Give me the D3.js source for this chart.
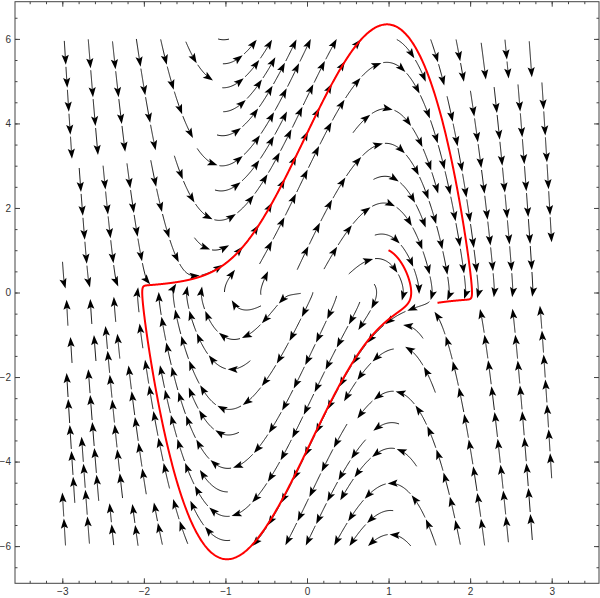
<!DOCTYPE html>
<html><head><meta charset="utf-8">
<script src="https://cdn.jsdelivr.net/npm/d3@7"></script>
<style>body{margin:0;background:#fff} svg{display:block}</style>
</head><body><svg id="c" width="600" height="598"></svg>
<script>
(function(){
// ---------------- data ----------------
// Van der Pol field shown by the stream plot:  x' = y,  y' = mu (1 - x^2) y - x
const mu = 4;
const streamXDomain = [-3, 3];
const streamYDomain = [-6, 6];
const viewX = [-3.58, 3.58];
const viewY = [-6.88, 6.88];
const xTicks = [-3, -2, -1, 0, 1, 2, 3];
const yTicks = [-6, -4, -2, 0, 2, 4, 6];
const xMinorStep = 0.2;
const yMinorStep = 0.5;
// red trajectory: initial condition and the x where it stops (on the second pass of the right branch)
const redStart = [1, 1];
const redStopX = 1.6;

// ---------------- setup ----------------
const svg = d3.select("#c");
const xs = d3.scaleLinear().domain(viewX).range([15, 599]);
const ys = d3.scaleLinear().domain(viewY).range([583.3, 1.7]);

function field(x, y) { return [y, mu * (1 - x * x) * y - x]; }

// ---------------- streamlines (evenly spaced, screen space) ----------------
const kx = xs(1) - xs(0), ky = ys(0) - ys(1);
const X0 = xs(streamXDomain[0]), X1 = xs(streamXDomain[1]);
const Y0 = ys(streamYDomain[1]), Y1 = ys(streamYDomain[0]);
const dsep = 24, dtest = 11, h = 1;
const nx = Math.ceil((X1 - X0) / dsep) + 1, ny = Math.ceil((Y1 - Y0) / dsep) + 1;
const grid = Array.from({length: nx * ny}, () => []);

function vel(px, py) {
  const [u, v] = field(xs.invert(px), ys.invert(py));
  const a = u * kx, b = -v * ky;
  const m = Math.hypot(a, b);
  if (Math.hypot(u, v) < 0.01 || m === 0) return null;
  return [a / m, b / m];
}
function inside(px, py) { return px >= X0 && px <= X1 && py >= Y0 && py <= Y1; }
function cellOf(px, py) { return [Math.floor((px - X0) / dsep), Math.floor((py - Y0) / dsep)]; }
function tooClose(px, py, d) {
  const [ci, cj] = cellOf(px, py);
  const d2 = d * d;
  for (let i = ci - 1; i <= ci + 1; i++) for (let j = cj - 1; j <= cj + 1; j++) {
    if (i < 0 || j < 0 || i >= nx || j >= ny) continue;
    for (const p of grid[i + j * nx]) {
      const dx = p[0] - px, dy = p[1] - py;
      if (dx * dx + dy * dy < d2) return true;
    }
  }
  return false;
}
function addPts(pts) {
  for (const p of pts) { const [i, j] = cellOf(p[0], p[1]); if (i >= 0 && j >= 0 && i < nx && j < ny) grid[i + j * nx].push(p); }
}
function selfClose(local, px, py, d) {
  const d2 = d * d, n = local.length - 25;
  for (let k = 0; k < n; k++) {
    const dx = local[k][0] - px, dy = local[k][1] - py;
    if (dx * dx + dy * dy < d2) return true;
  }
  return false;
}
function trace(sx, sy, dir, local) {
  const pts = [];
  const dirs = [];
  let px = sx, py = sy;
  for (let i = 0; i < 2500; i++) {
    const v1 = vel(px, py); if (!v1) break;
    const mx = px + dir * v1[0] * h / 2, my = py + dir * v1[1] * h / 2;
    const v2 = vel(mx, my); if (!v2) break;
    if (v1[0] * v2[0] + v1[1] * v2[1] < 0) break;
    // stop at sharp bends (e.g. where lines fall onto the slow branch)
    if (dirs.length >= 6) {
      const o = dirs[dirs.length - 6];
      if (o[0] * v2[0] + o[1] * v2[1] < 0.72) break;
    }
    dirs.push(v2);
    const qx = px + dir * v2[0] * h, qy = py + dir * v2[1] * h;
    if (!inside(qx, qy)) break;
    if (tooClose(qx, qy, dtest)) break;
    if (selfClose(local, qx, qy, dtest)) break;
    pts.push([qx, qy]); local.push([qx, qy]);
    px = qx; py = qy;
  }
  return pts;
}
const lines = [];
function makeLine(sx, sy) {
  if (!inside(sx, sy) || !vel(sx, sy) || tooClose(sx, sy, dsep * 0.95)) return null;
  const local = [[sx, sy]];
  const f = trace(sx, sy, 1, local);
  const b = trace(sx, sy, -1, local);
  const line = b.reverse().concat([[sx, sy]], f);
  if (line.length < 8) return null;
  addPts(line);
  lines.push(line);
  return line;
}
const queue = [];
function pushSeeds(line) {
  for (let k = 0; k < line.length; k += 4) {
    const a = line[Math.max(0, k - 1)], c = line[Math.min(line.length - 1, k + 1)];
    let tx = c[0] - a[0], ty = c[1] - a[1]; const m = Math.hypot(tx, ty) || 1;
    tx /= m; ty /= m;
    queue.push([line[k][0] - ty * dsep, line[k][1] + tx * dsep]);
    queue.push([line[k][0] + ty * dsep, line[k][1] - tx * dsep]);
  }
}
function run(sx, sy) {
  const l = makeLine(sx, sy);
  if (!l) return;
  pushSeeds(l);
  while (queue.length) {
    const s = queue.shift();
    const nl = makeLine(s[0], s[1]);
    if (nl) pushSeeds(nl);
  }
}
run(xs(-2.5), ys(3));
for (let gy = Y0 + 2; gy <= Y1; gy += dsep / 2)
  for (let gx = X0 + 2; gx <= X1; gx += dsep / 2) run(gx, gy);

// ---------------- draw streamlines as chained arrows ----------------
const gS = svg.append("g");
const P = 26, gap = 2, headL = 10, headW = 3.6;
const lineGen = d3.line();
for (const line of lines) {
  const L = line.length - 1;
  if (L < 12) {
    gS.append("path").attr("d", lineGen(line)).attr("fill", "none").attr("stroke", "#1a1a1a").attr("stroke-width", 1);
    continue;
  }
  const n = Math.max(1, Math.round(L / P));
  const seg = L / n;
  for (let i = 0; i < n; i++) {
    const a = Math.round(i * seg) + (i > 0 ? gap : 0);
    const bIdx = Math.round((i + 1) * seg);
    const tip = line[bIdx];
    const back = line[Math.max(a, bIdx - 5)];
    let dx = tip[0] - back[0], dy = tip[1] - back[1]; const m = Math.hypot(dx, dy) || 1;
    dx /= m; dy /= m;
    const endIdx = Math.max(a, bIdx - headL + 2);
    if (endIdx > a) gS.append("path").attr("d", lineGen(line.slice(a, endIdx + 1)))
      .attr("fill", "none").attr("stroke", "#1a1a1a").attr("stroke-width", 1);
    const bx = tip[0] - dx * headL, by = tip[1] - dy * headL;
    const ix = tip[0] - dx * headL * 0.8, iy = tip[1] - dy * headL * 0.8;
    gS.append("path").attr("d", `M${tip[0]},${tip[1]}L${bx - dy * headW},${by + dx * headW}L${ix},${iy}L${bx + dy * headW},${by - dx * headW}Z`)
      .attr("fill", "#000").attr("stroke", "none");
  }
}

// ---------------- red trajectory ----------------
function rk4(p, dt) {
  const f = (q) => field(q[0], q[1]);
  const k1 = f(p);
  const k2 = f([p[0] + dt / 2 * k1[0], p[1] + dt / 2 * k1[1]]);
  const k3 = f([p[0] + dt / 2 * k2[0], p[1] + dt / 2 * k2[1]]);
  const k4 = f([p[0] + dt * k3[0], p[1] + dt * k3[1]]);
  return [p[0] + dt / 6 * (k1[0] + 2 * k2[0] + 2 * k3[0] + k4[0]),
          p[1] + dt / 6 * (k1[1] + 2 * k2[1] + 2 * k3[1] + k4[1])];
}
const red = [redStart.slice()];
{
  let p = redStart.slice(), seenLeft = false, seenRight = false;
  for (let i = 0; i < 200000; i++) {
    p = rk4(p, 0.0005);
    if (i % 4 === 0) red.push(p);
    if (p[0] < -1.9) seenLeft = true;
    if (seenLeft && p[0] > 1.9) seenRight = true;
    if (seenRight && p[0] < redStopX) { red.push(p); break; }
  }
}
svg.append("path")
  .attr("d", d3.line().x(d => xs(d[0])).y(d => ys(d[1]))(red))
  .attr("fill", "none").attr("stroke", "#ff0000").attr("stroke-width", 2)
  .attr("stroke-linejoin", "round");

// ---------------- frame & ticks ----------------
const frameColor = "#444";
const fBottom = ys.range()[0], fTop = ys.range()[1], fLeft = xs.range()[0], fRight = xs.range()[1];
const xMinor = d3.range(Math.ceil(viewX[0] / xMinorStep), Math.floor(viewX[1] / xMinorStep) + 1).map(k => +(k * xMinorStep).toFixed(4));
const yMinor = d3.range(Math.ceil(viewY[0] / yMinorStep), Math.floor(viewY[1] / yMinorStep) + 1).map(k => +(k * yMinorStep).toFixed(4));
const fmt = d3.format("");

function styleAxis(g) {
  g.select(".domain").remove();
  g.selectAll("line").attr("stroke", frameColor);
  g.selectAll("text").attr("fill", "#333").style("font-family", "'Liberation Sans', Arial, sans-serif").style("font-size", "10px");
}
svg.append("g").attr("transform", `translate(0,${fBottom})`).call(d3.axisBottom(xs).tickValues(xMinor).tickSize(-2.5).tickFormat("")).call(styleAxis);
svg.append("g").attr("transform", `translate(0,${fBottom})`).call(d3.axisBottom(xs).tickValues(xTicks).tickSize(-5).tickPadding(5).tickFormat(fmt)).call(styleAxis);
svg.append("g").attr("transform", `translate(0,${fTop})`).call(d3.axisTop(xs).tickValues(xMinor).tickSize(-2.5).tickFormat("")).call(styleAxis);
svg.append("g").attr("transform", `translate(0,${fTop})`).call(d3.axisTop(xs).tickValues(xTicks).tickSize(-5).tickFormat("")).call(styleAxis);
svg.append("g").attr("transform", `translate(${fLeft},0)`).call(d3.axisLeft(ys).tickValues(yMinor).tickSize(-2.5).tickFormat("")).call(styleAxis);
svg.append("g").attr("transform", `translate(${fLeft},0)`).call(d3.axisLeft(ys).tickValues(yTicks).tickSize(-5).tickPadding(4).tickFormat(fmt)).call(styleAxis);
svg.append("g").attr("transform", `translate(${fRight},0)`).call(d3.axisRight(ys).tickValues(yMinor).tickSize(-2.5).tickFormat("")).call(styleAxis);
svg.append("g").attr("transform", `translate(${fRight},0)`).call(d3.axisRight(ys).tickValues(yTicks).tickSize(-5).tickFormat("")).call(styleAxis);

svg.append("rect").attr("x", fLeft).attr("y", fTop).attr("width", fRight - fLeft).attr("height", fBottom - fTop)
  .attr("fill", "none").attr("stroke", frameColor).attr("stroke-width", 1);
})();
</script></body></html>
